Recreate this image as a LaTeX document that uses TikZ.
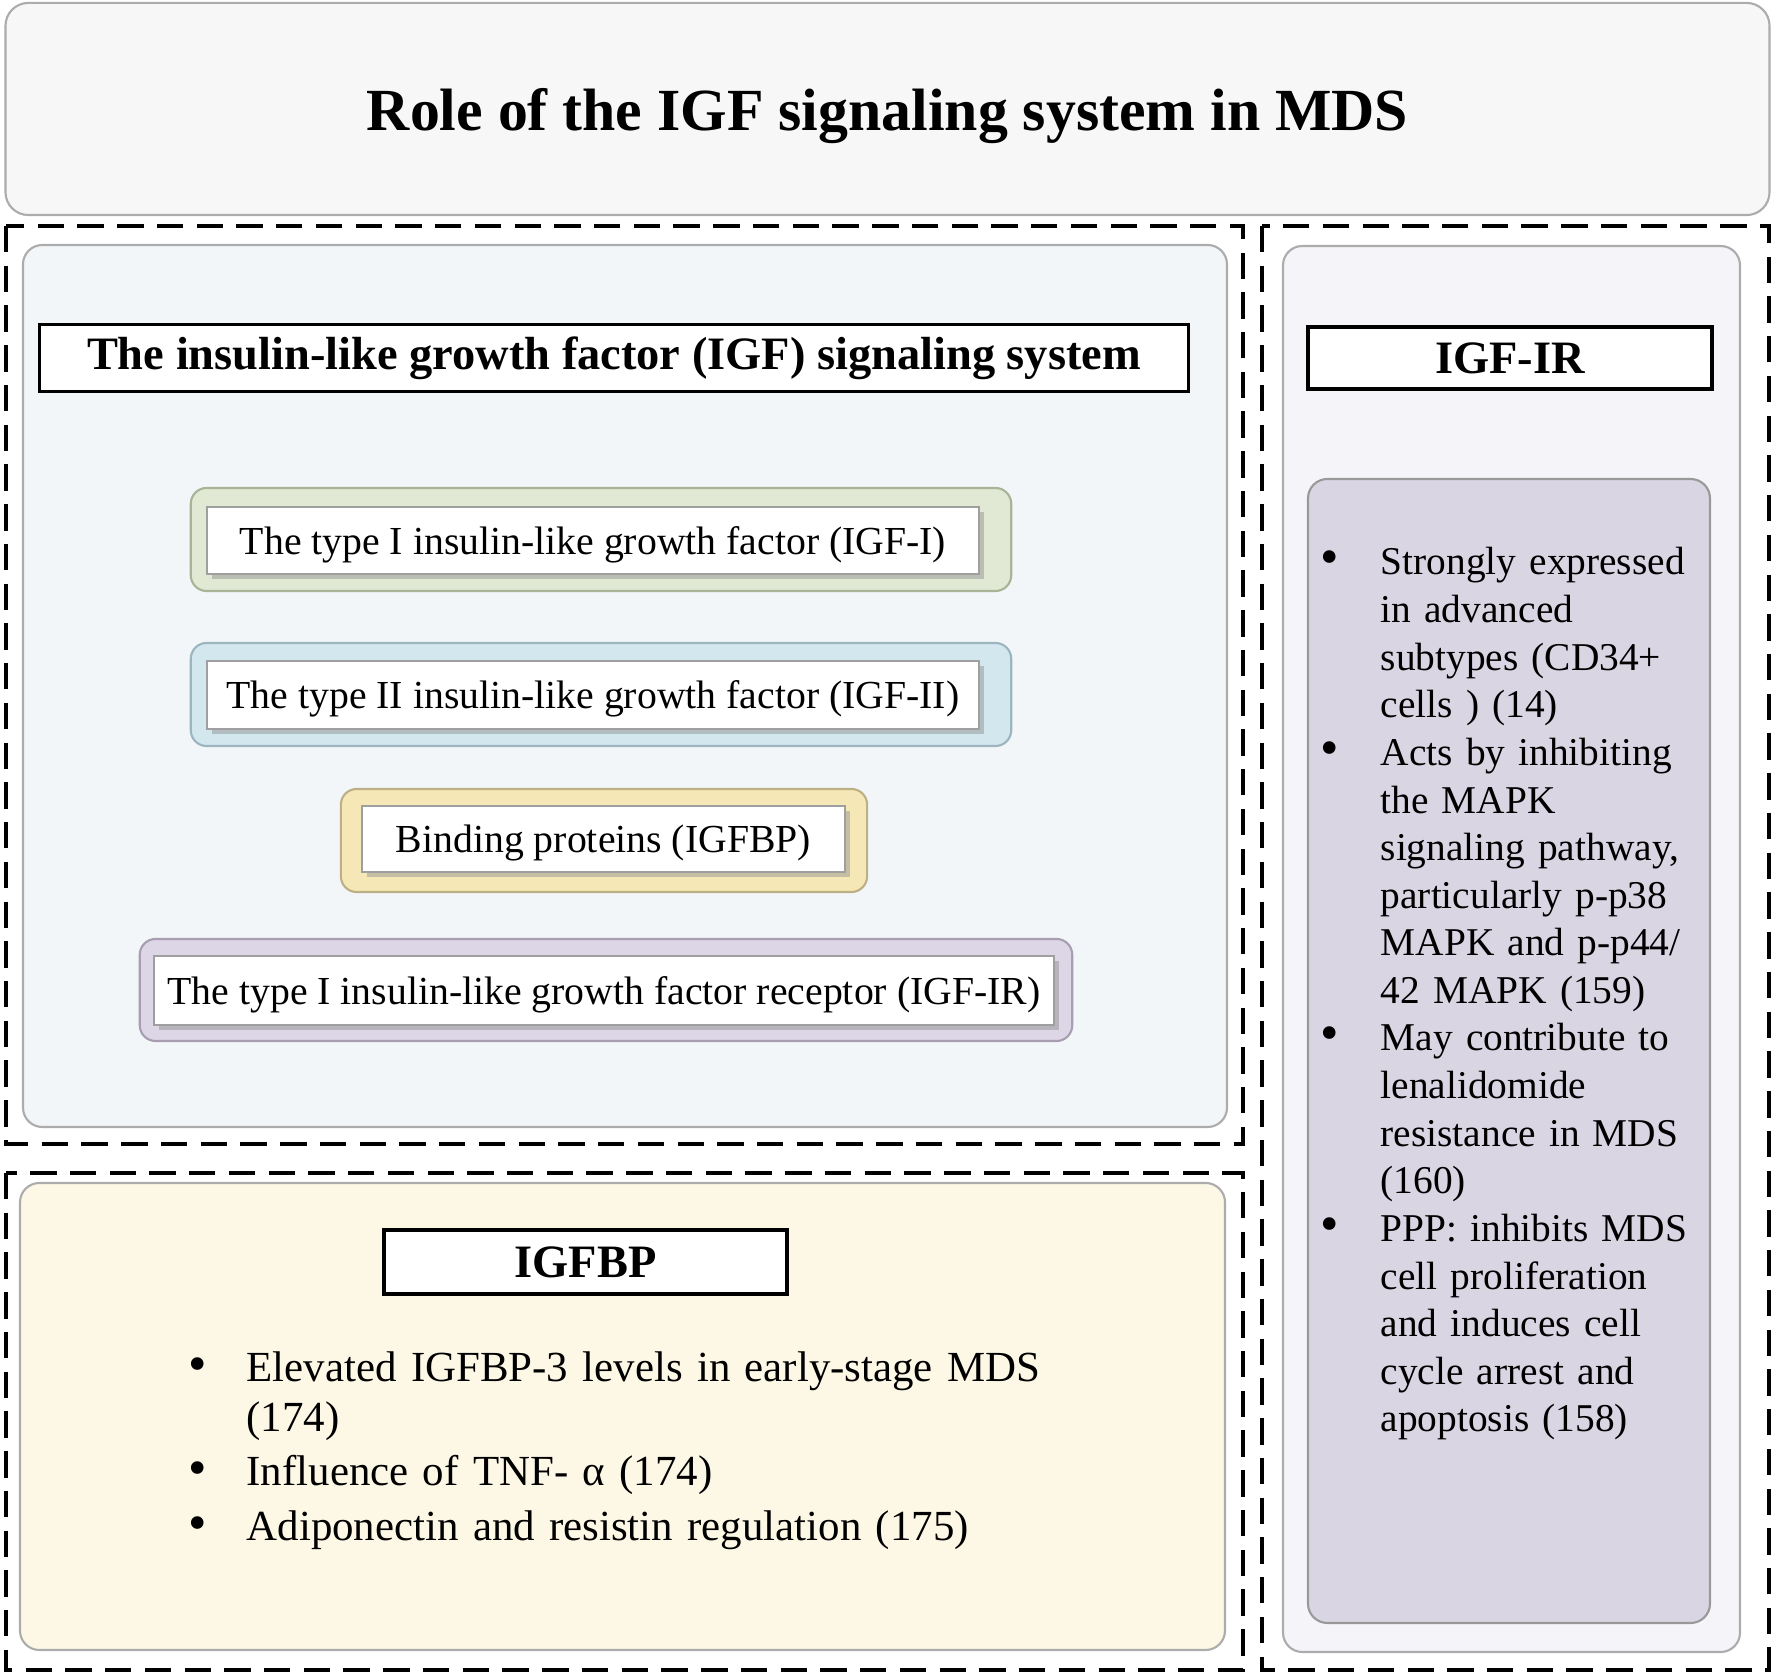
\documentclass[tikz,border=0pt]{standalone}
\usepackage{fontspec}
\setmainfont{Liberation Serif}
\usetikzlibrary{shadows}

\definecolor{titlefill}{HTML}{F7F7F7}
\definecolor{bluepanel}{HTML}{F2F6F9}
\definecolor{yellowpanel}{HTML}{FDF8E6}
\definecolor{lilacpanel}{HTML}{F5F4F9}
\definecolor{lilacinner}{HTML}{DAD5E3}
\definecolor{greenfill}{HTML}{E1E8D3}
\definecolor{greenline}{HTML}{A9B398}
\definecolor{cyanfill}{HTML}{D3E7EE}
\definecolor{cyanline}{HTML}{9CB5BF}
\definecolor{goldfill}{HTML}{F6E8B6}
\definecolor{goldline}{HTML}{BDAF86}
\definecolor{mauvefill}{HTML}{DDD6E6}
\definecolor{mauveline}{HTML}{A79EB2}

\tikzset{
  panel/.style={draw=gray!65, line width=0.6pt, rounded corners=5.5pt},
  dashframe/.style={draw=black, line width=1.1pt, dash pattern=on 7.5pt off 3.8pt},
  hdr/.style={draw=black, fill=white, line width=1pt, inner sep=0pt,
    font=\fontsize{13.2}{15}\selectfont\bfseries},
  itemback/.style={line width=0.6pt, rounded corners=4.5pt, inner sep=0pt},
  itembox/.style={draw=gray!75, fill=white, line width=0.5pt, inner sep=0pt, text depth=0pt,
    font=\fontsize{11.3}{13}\selectfont,
    drop shadow={shadow xshift=1.4pt, shadow yshift=-1.4pt, fill=black!45, opacity=0.45}},
  dot/.style={anchor=base, inner sep=0pt, font=\fontsize{15}{14}\selectfont},
  rtext/.style={anchor=base west, text width=3.6cm, align=left, inner sep=0pt,
    font=\fontsize{11.2}{13.54}\selectfont},
  btext/.style={anchor=base west, text width=9.5cm, align=left, inner sep=0pt,
    font=\fontsize{12.2}{13.94}\selectfont},
}

\begin{document}
\begin{tikzpicture}[x=0.01cm, y=-0.01cm]
\useasboundingbox (0,0) rectangle (1772,1674);
\fill[white] (0,0) rectangle (1772,1674);

% title
\node[panel, fill=titlefill, rounded corners=6.5pt, minimum width=17.63cm, minimum height=2.12cm,
  text depth=0pt, font=\fontsize{17}{20}\selectfont\bfseries] (title) at (887.5,109)
  {Role of the IGF signaling system in MDS};

% upper left block
\draw[dashframe] (6,226) rectangle (1243,1144);
\draw[panel, fill=bluepanel] (23,245) rectangle (1227,1127);
\node[hdr, minimum width=11.48cm, minimum height=0.67cm] (sysHead) at (614,358)
  {The insulin-like growth factor (IGF) signaling system};

\node[itemback, fill=greenfill, draw=greenline, minimum width=8.20cm, minimum height=1.03cm] (igfIbg) at (601,539.5) {};
\node[itembox, minimum width=7.72cm, minimum height=0.67cm] (igfI) at (593,540.5)
  {The type I insulin-like growth factor (IGF-I)};

\node[itemback, fill=cyanfill, draw=cyanline, minimum width=8.20cm, minimum height=1.03cm] (igfIIbg) at (601,694.5) {};
\node[itembox, minimum width=7.72cm, minimum height=0.68cm] (igfII) at (593,695)
  {The type II insulin-like growth factor (IGF-II)};

\node[itemback, fill=goldfill, draw=goldline, minimum width=5.26cm, minimum height=1.03cm] (bpbg) at (604,840.5) {};
\node[itembox, minimum width=4.83cm, minimum height=0.66cm] (bp) at (603.5,839)
  {Binding proteins (IGFBP)};

\node[itemback, fill=mauvefill, draw=mauveline, minimum width=9.32cm, minimum height=1.02cm] (igfIRbg) at (606,990) {};
\node[itembox, minimum width=9.00cm, minimum height=0.69cm] (igfIR) at (604,990.5)
  {The type I insulin-like growth factor receptor (IGF-IR)};

% lower left block
\draw[dashframe] (6,1173) rectangle (1243,1670);
\draw[panel, fill=yellowpanel] (20,1183) rectangle (1225,1650);
\node[hdr, minimum width=4.03cm, minimum height=0.64cm] (bpHead) at (585.5,1262) {IGFBP};

\node[dot] (bd1) at (198,1382) {•};
\node[btext] (bt1) at (246,1382) {Elevated IGFBP-3 levels in early-stage MDS\\(174)};
\node[dot] (bd2) at (198,1486) {•};
\node[btext] (bt2) at (246,1486) {Influence of TNF- α (174)};
\node[dot] (bd3) at (198,1541) {•};
\node[btext] (bt3) at (246,1541) {Adiponectin and resistin regulation (175)};

% right block
\draw[dashframe] (1262,226) rectangle (1769,1670);
\draw[panel, fill=lilacpanel] (1283,246) rectangle (1740,1652);
\node[hdr, minimum width=4.04cm, minimum height=0.62cm] (irHead) at (1510,358) {IGF-IR};
\draw[panel, draw=gray!80, fill=lilacinner] (1308,479) rectangle (1710,1623);

\node[dot] (rd1) at (1330,575) {•};
\node[rtext] (rt1) at (1380,575) {Strongly expressed\\in advanced\\subtypes (CD34+\\cells ) (14)};
\node[dot] (rd2) at (1330,765.4) {•};
\node[rtext] (rt2) at (1380,765.4) {Acts by inhibiting\\the MAPK\\signaling pathway,\\particularly p-p38\\MAPK and p-p44/\\42 MAPK (159)};
\node[dot] (rd3) at (1330,1051) {•};
\node[rtext] (rt3) at (1380,1051) {May contribute to\\lenalidomide\\resistance in MDS\\(160)};
\node[dot] (rd4) at (1330,1241.4) {•};
\node[rtext] (rt4) at (1380,1241.4) {PPP: inhibits MDS\\cell proliferation\\and induces cell\\cycle arrest and\\apoptosis (158)};
\end{tikzpicture}
\end{document}
